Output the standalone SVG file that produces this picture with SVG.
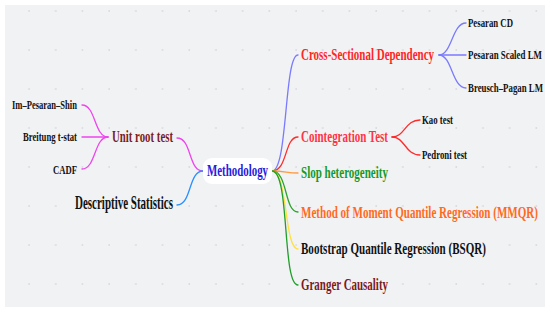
<svg xmlns="http://www.w3.org/2000/svg" width="550" height="312" viewBox="0 0 550 312">
<defs>
<pattern id="dots" x="16" y="-2" width="26.7" height="39" patternUnits="userSpaceOnUse">
<circle cx="13" cy="13" r="0.7" fill="#c4c6cc"/>
</pattern>
<style>
text{font-family:"Liberation Serif","DejaVu Serif",serif;font-weight:bold;}
.leaf{font-size:13.5px;fill:#111;}
.main{font-size:17px;}
.c{fill:none;stroke-width:1.3;stroke-linecap:round;}
</style>
</defs>
<rect width="550" height="312" fill="#ffffff"/>
<rect x="5" y="5" width="540" height="302" fill="#f1f2f4"/>
<rect x="5" y="5" width="540" height="302" fill="url(#dots)"/>

<g id="connectors">
<path class="c" stroke="#7a7aff" d="M272,171 C288,171 284,55 298,55"/>
<path class="c" stroke="#ff2a2a" d="M272,171 C288,171 284,137 298,137"/>
<path class="c" stroke="#ff9a40" d="M272,171 C286,171 286,173 298,173"/>
<path class="c" stroke="#2aa52a" d="M272,171 C288,171 284,212 298,212"/>
<path class="c" stroke="#ffe040" d="M272,171 C288,171 284,249 298,249"/>
<path class="c" stroke="#1f9e2a" d="M272,171 C290,171 282,285 298,285"/>
<path class="c" stroke="#7a7aff" d="M439,55 C452,55 452,23 466,23"/>
<path class="c" stroke="#7a7aff" d="M439,55 L466,55"/>
<path class="c" stroke="#7a7aff" d="M439,55 C452,55 452,88 466,88"/>
<path class="c" stroke="#ff2a2a" d="M392,137 C405,137 405,120 420,120"/>
<path class="c" stroke="#ff2a2a" d="M392,137 C405,137 405,155 420,155"/>
<path class="c" stroke="#ee44ee" d="M203,171 C188,171 192,138 177,138"/>
<path class="c" stroke="#2a90ff" d="M203,171 C188,171 192,205 177,205"/>
<path class="c" stroke="#ee44ee" d="M108,137 C94,137 96,105 82,105"/>
<path class="c" stroke="#ee44ee" d="M108,137 L82,137"/>
<path class="c" stroke="#ee44ee" d="M108,137 C94,137 96,169 82,169"/>
</g>

<g id="methodology">
<rect x="203" y="158" width="69" height="26" rx="9" fill="#ffffff"/>
<text transform="translate(207,176) scale(0.6,1)" font-size="17.5" fill="#2222dd" textLength="101.7" lengthAdjust="spacingAndGlyphs">Methodology</text>
</g>
<g id="cross-sectional">
<text class="main" transform="translate(301,60) scale(0.6,1)" fill="#ff2626" textLength="221.7" lengthAdjust="spacingAndGlyphs">Cross-Sectional Dependency</text>
</g>
<g id="pesaran-cd"><text class="leaf" transform="translate(468,27) scale(0.6,1)" textLength="75" lengthAdjust="spacingAndGlyphs">Pesaran CD</text></g>
<g id="pesaran-scaled"><text class="leaf" transform="translate(468,59) scale(0.6,1)" textLength="123.3" lengthAdjust="spacingAndGlyphs">Pesaran Scaled LM</text></g>
<g id="breusch-pagan"><text class="leaf" transform="translate(468,92) scale(0.6,1)" textLength="125" lengthAdjust="spacingAndGlyphs">Breusch–Pagan LM</text></g>
<g id="cointegration">
<text class="main" transform="translate(301,142) scale(0.6,1)" fill="#ff3344" textLength="145" lengthAdjust="spacingAndGlyphs">Cointegration Test</text>
</g>
<g id="kao"><text class="leaf" transform="translate(422,124) scale(0.6,1)" textLength="51.7" lengthAdjust="spacingAndGlyphs">Kao test</text></g>
<g id="pedroni"><text class="leaf" transform="translate(422,159) scale(0.6,1)" textLength="75" lengthAdjust="spacingAndGlyphs">Pedroni test</text></g>
<g id="slop"><text class="main" transform="translate(301,178) scale(0.6,1)" fill="#18992a" textLength="145" lengthAdjust="spacingAndGlyphs">Slop heterogeneity</text></g>
<g id="mmqr"><text class="main" transform="translate(301,218) scale(0.6,1)" fill="#ff6a1f" textLength="395" lengthAdjust="spacingAndGlyphs">Method of Moment Quantile Regression (MMQR)</text></g>
<g id="bsqr"><text class="main" transform="translate(301,254) scale(0.6,1)" fill="#111111" textLength="308.3" lengthAdjust="spacingAndGlyphs">Bootstrap Quantile Regression (BSQR)</text></g>
<g id="granger"><text class="main" transform="translate(301,290) scale(0.6,1)" fill="#7a1a24" textLength="145" lengthAdjust="spacingAndGlyphs">Granger Causality</text></g>
<g id="unit-root"><text class="main" transform="translate(112,142) scale(0.6,1)" fill="#7a1a24" textLength="101.7" lengthAdjust="spacingAndGlyphs">Unit root test</text></g>
<g id="ips"><text class="leaf" transform="translate(12,109) scale(0.6,1)" textLength="108.3" lengthAdjust="spacingAndGlyphs">Im–Pesaran–Shin</text></g>
<g id="breitung"><text class="leaf" transform="translate(23,141) scale(0.6,1)" textLength="90" lengthAdjust="spacingAndGlyphs">Breitung t-stat</text></g>
<g id="cadf"><text class="leaf" transform="translate(53,174) scale(0.6,1)" textLength="40" lengthAdjust="spacingAndGlyphs">CADF</text></g>
<g id="descriptive"><text transform="translate(75,209) scale(0.6,1)" font-size="18" fill="#111111" textLength="163.3" lengthAdjust="spacingAndGlyphs">Descriptive Statistics</text></g>
</svg>
